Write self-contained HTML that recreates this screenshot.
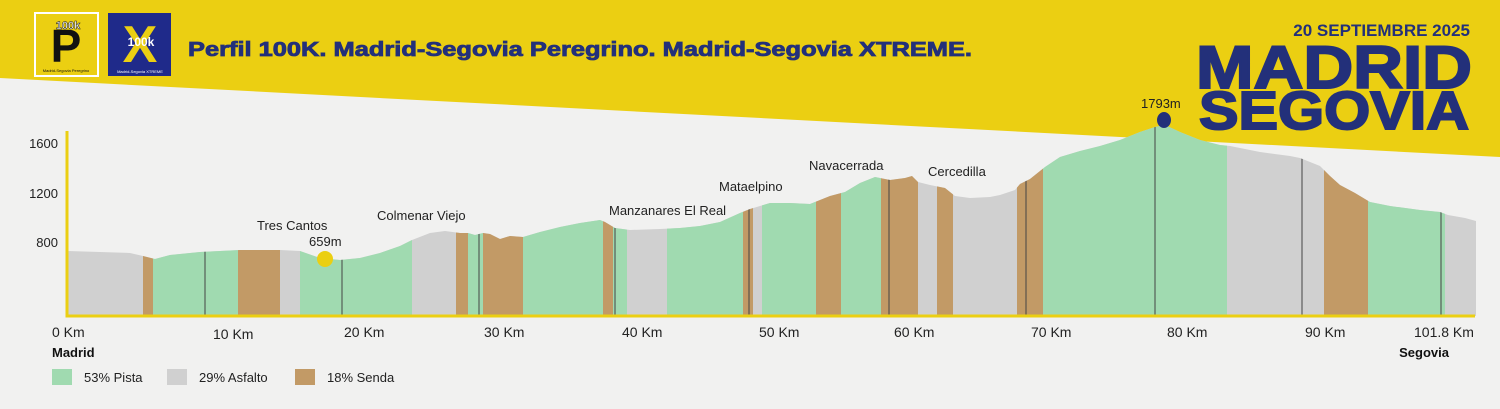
<!DOCTYPE html><html><head><meta charset="utf-8"><style>
body{margin:0;width:1500px;height:409px;overflow:hidden;background:#f1f1f0;font-family:"Liberation Sans",sans-serif}
</style></head><body>
<svg width="1500" height="409" viewBox="0 0 1500 409" xmlns="http://www.w3.org/2000/svg" style="position:absolute;left:0;top:0">
<rect width="1500" height="409" fill="#f1f1f0"/>
<polygon points="0,0 1500,0 1500,157 0,78" fill="#ebcf12"/>
<rect x="34" y="12" width="65" height="65" fill="#fff"/>
<rect x="36" y="14" width="61" height="61" fill="#ebcf12"/>
<text x="66" y="62" font-size="46" font-weight="bold" text-anchor="middle" fill="#111">P</text>
<text x="68" y="29" font-size="11" font-weight="bold" text-anchor="middle" fill="#fff" stroke="#111" stroke-width="0.5">100k</text>
<text x="66" y="72" font-size="4" text-anchor="middle" fill="#111">Madrid-Segovia Peregrino</text>
<rect x="108" y="13" width="63" height="63" fill="#1f2a8a"/>
<text x="140" y="62" font-size="52" font-weight="bold" text-anchor="middle" fill="#ebcf12">X</text>
<text x="141" y="46" font-size="12" font-weight="bold" text-anchor="middle" fill="#fff">100k</text>
<text x="140" y="73" font-size="4" text-anchor="middle" fill="#fff">Madrid-Segovia XTREME</text>
<text x="188" y="56" font-size="20" font-weight="bold" fill="#23307a" stroke="#23307a" stroke-width="0.8" textLength="784" lengthAdjust="spacingAndGlyphs">Perfil 100K. Madrid-Segovia Peregrino. Madrid-Segovia XTREME.</text>
<text x="1470" y="36" font-size="17" font-weight="bold" fill="#23307a" text-anchor="end">20 SEPTIEMBRE 2025</text>
<text x="1472" y="88" font-size="60" font-weight="bold" fill="#23307a" stroke="#23307a" stroke-width="2" text-anchor="end" textLength="276" lengthAdjust="spacingAndGlyphs">MADRID</text>
<text x="1469" y="129" font-size="54" font-weight="bold" fill="#23307a" stroke="#23307a" stroke-width="2" text-anchor="end" textLength="270" lengthAdjust="spacingAndGlyphs">SEGOVIA</text>
<defs><clipPath id="p"><polygon points="68,316 68,251 100,252 130,253 143,256 155,259 170,255 200,252 240,250 280,250 300,251 320,258 340,260 360,258 380,253 400,246 412,240 430,233 445,231 460,233 468,233 475,235 483,233 490,234 500,239 510,236 523,237 540,232 560,227 580,223 600,220 605,222 615,228 630,230 660,229 680,228 700,226 720,222 740,213 750,209 760,206 770,203 790,203 810,204 820,200 830,196 845,192 860,183 875,177 880,178 890,180 905,178 912,176 918,182 930,185 945,188 955,196 970,198 990,197 1000,195 1015,190 1020,184 1030,179 1045,167 1060,157 1080,151 1100,146 1120,140 1140,132 1155,127 1165,125 1180,132 1200,140 1220,145 1230,146 1260,152 1290,156 1300,158 1320,166 1330,176 1340,185 1355,193 1370,202 1390,206 1420,210 1440,212 1448,215 1465,218 1476,221 1476,316"/></clipPath></defs>
<g clip-path="url(#p)">
<rect x="68" y="100" width="1410" height="220" fill="#d0d0d0"/>
<g fill="#c29a66">
<rect x="143" y="100" width="10" height="220"/><rect x="238" y="100" width="42" height="220"/><rect x="456" y="100" width="12" height="220"/><rect x="483" y="100" width="40" height="220"/><rect x="603" y="100" width="10" height="220"/><rect x="743" y="100" width="10" height="220"/><rect x="816" y="100" width="25" height="220"/><rect x="881" y="100" width="37" height="220"/><rect x="937" y="100" width="16" height="220"/><rect x="1017" y="100" width="26" height="220"/><rect x="1324" y="100" width="44" height="220"/></g>
<g fill="#a0dab0">
<rect x="153" y="100" width="85" height="220"/><rect x="300" y="100" width="112" height="220"/><rect x="468" y="100" width="15" height="220"/><rect x="523" y="100" width="80" height="220"/><rect x="613" y="100" width="14" height="220"/><rect x="667" y="100" width="76" height="220"/><rect x="762" y="100" width="54" height="220"/><rect x="841" y="100" width="40" height="220"/><rect x="1043" y="100" width="184" height="220"/><rect x="1368" y="100" width="77" height="220"/></g>
<g stroke="#444" stroke-width="1">
<line x1="205" y1="100" x2="205" y2="316"/><line x1="342" y1="100" x2="342" y2="316"/><line x1="479" y1="100" x2="479" y2="316"/><line x1="615" y1="100" x2="615" y2="316"/><line x1="749" y1="100" x2="749" y2="316"/><line x1="889" y1="100" x2="889" y2="316"/><line x1="1026" y1="100" x2="1026" y2="316"/><line x1="1155" y1="100" x2="1155" y2="316"/><line x1="1302" y1="100" x2="1302" y2="316"/><line x1="1441" y1="100" x2="1441" y2="316"/></g>
</g>
<polyline points="67,131 67,316 1475,316" fill="none" stroke="#ebcf12" stroke-width="3"/>
<g font-size="13" fill="#222" text-anchor="end"><text x="58" y="148">1600</text><text x="58" y="198">1200</text><text x="58" y="247">800</text></g>
<g font-size="13" fill="#222">
<text x="257" y="230">Tres Cantos</text><text x="309" y="246">659m</text><text x="377" y="220">Colmenar Viejo</text><text x="609" y="215">Manzanares El Real</text><text x="719" y="191">Mataelpino</text><text x="809" y="170">Navacerrada</text><text x="928" y="176">Cercedilla</text><text x="1141" y="108">1793m</text></g>
<ellipse cx="325" cy="259" rx="8" ry="8" fill="#ebcf12"/>
<ellipse cx="1164" cy="120" rx="7" ry="8" fill="#23307a"/>
<g font-size="14" fill="#222"><text x="52" y="337">0 Km</text><text x="213" y="339">10 Km</text><text x="344" y="337">20 Km</text><text x="484" y="337">30 Km</text><text x="622" y="337">40 Km</text><text x="759" y="337">50 Km</text><text x="894" y="337">60 Km</text><text x="1031" y="337">70 Km</text><text x="1167" y="337">80 Km</text><text x="1305" y="337">90 Km</text><text x="1414" y="337">101.8 Km</text></g>
<text x="52" y="357" font-size="13" font-weight="bold" fill="#111">Madrid</text>
<text x="1449" y="357" font-size="13" font-weight="bold" fill="#111" text-anchor="end">Segovia</text>
<rect x="52" y="369" width="20" height="16" fill="#a0dab0"/><text x="84" y="382" font-size="13" fill="#222">53% Pista</text>
<rect x="167" y="369" width="20" height="16" fill="#d0d0d0"/><text x="199" y="382" font-size="13" fill="#222">29% Asfalto</text>
<rect x="295" y="369" width="20" height="16" fill="#c29a66"/><text x="327" y="382" font-size="13" fill="#222">18% Senda</text>
</svg>
</body></html>
